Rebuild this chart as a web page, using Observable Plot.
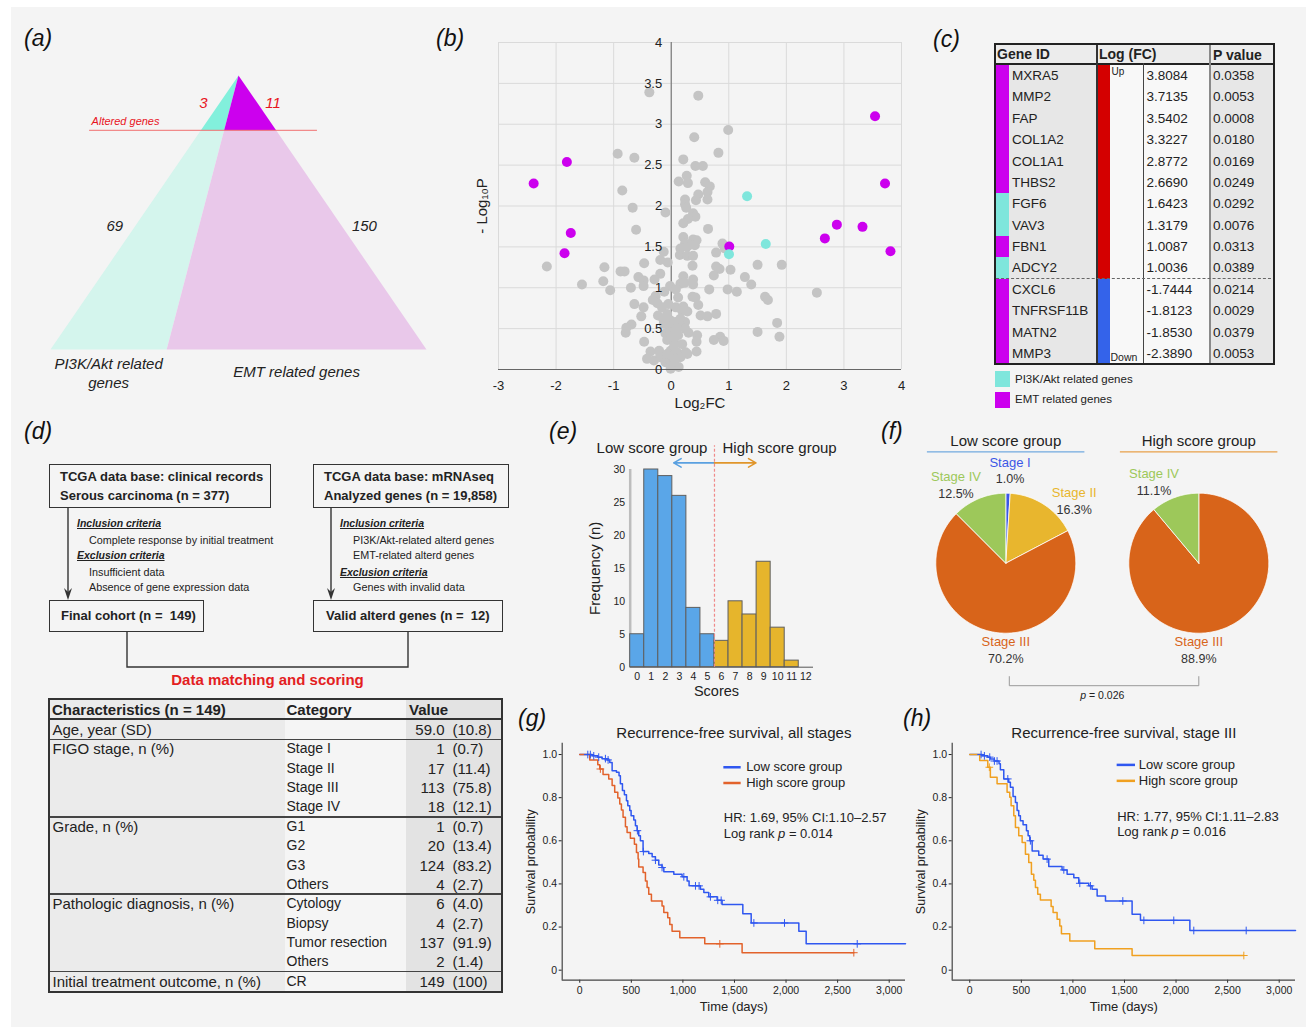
<!DOCTYPE html>
<html>
<head>
<meta charset="utf-8">
<script src="https://cdn.jsdelivr.net/npm/d3@7"></script>
<script src="https://cdn.jsdelivr.net/npm/@observablehq/plot@0.6"></script>
<style>
  html,body{margin:0;padding:0;background:#fff;}
  #page{position:relative;width:1312px;height:1027px;overflow:hidden;background:#fff;font-family:"Liberation Sans",Arial,Helvetica,sans-serif;color:#222;}
  #bg{position:absolute;left:11px;top:7px;right:6px;bottom:0;background:#f4f4f4;}
  .lab{position:absolute;font-style:italic;font-size:23px;line-height:23px;color:#111;}
  svg{overflow:visible;}
</style>
</head>
<body>
<div id="page"><div id="bg"></div></div>
<script>
// ---------------- DATA ----------------
// (a) gene counts
const geneSetNames = ["PI3K/Akt related genes", "EMT related genes"];
const alteredCounts = [3, 11];
const otherCounts = [69, 150];

// (b) volcano: non-selected genes (log2FC, -log10 P)
const grayFC = [-0.38,0.47,0.99,0.40,0.82,-0.93,-0.64,0.21,0.42,0.55,
0.27,0.29,0.13,0.59,0.67,-0.85,0.47,0.63,0.24,0.43,
0.63,0.24,0.26,-0.67,-0.10,0.38,0.42,0.29,0.21,0.64,
-0.61,0.21,0.38,0.44,0.24,0.31,0.41,0.16,0.27,0.89,
0.93,-0.13,0.78,0.15,0.28,0.38,-0.47,-0.19,-0.06,0.37,
0.78,0.84,1.03,1.50,1.92,-2.16,-1.16,-0.88,-0.81,-0.19,
0.21,0.74,-0.57,-0.48,-0.29,0.38,1.28,-1.18,-1.55,-1.06,
-0.70,-0.48,-0.02,0.16,0.23,0.38,0.08,0.66,0.98,1.14,
1.39,2.53,1.63,1.68,-0.27,-0.32,-0.24,-0.64,0.37,0.42,
0.47,0.08,0.21,-0.48,-0.52,-0.16,-0.07,0.19,0.28,0.51,
0.63,0.78,-0.23,0.16,-0.01,0.08,0.24,1.84,-0.69,-0.78,
-0.79,-0.13,-0.04,0.15,0.24,1.50,-0.10,-0.01,0.12,0.45,
0.85,0.74,0.91,1.88,-0.47,-0.07,0.05,0.19,0.44,-0.36,
-0.21,-0.01,0.10,0.25,0.44,0.28,-0.42,-0.30,-0.19,-0.10,
-0.01,0.05,0.13,-0.01,0.16,-0.19,0.05,-0.07,0.02,
0.10,-0.05,0.12,-0.12,0.30,0.00,0.06,-0.14];
const grayNLP = [3.39,3.35,2.93,2.84,2.65,2.64,2.59,2.57,2.49,2.49,
2.37,2.28,2.30,2.29,2.24,2.19,2.14,2.17,2.08,2.07,
2.08,2.02,1.98,1.98,1.92,1.91,1.87,1.84,1.79,1.72,
1.71,1.62,1.59,1.58,1.54,1.52,1.52,1.48,1.50,1.54,
1.48,1.44,1.43,1.40,1.39,1.39,1.30,1.34,1.31,1.27,
1.26,1.23,1.22,1.28,1.28,1.26,1.25,1.20,1.20,1.17,
1.14,1.15,1.13,1.09,1.10,1.10,1.13,1.08,1.04,0.97,
1.00,1.02,1.02,1.05,1.06,1.04,0.98,0.98,0.98,0.95,
1.04,0.94,0.89,0.85,0.90,0.85,0.81,0.80,0.89,0.88,
0.79,0.76,0.77,0.76,0.65,0.76,0.68,0.72,0.71,0.66,
0.65,0.68,0.66,0.62,0.60,0.58,0.58,0.57,0.55,0.51,
0.45,0.56,0.53,0.55,0.50,0.46,0.44,0.46,0.42,0.42,
0.40,0.36,0.35,0.40,0.34,0.36,0.34,0.31,0.34,0.22,
0.23,0.23,0.21,0.21,0.22,0.19,0.13,0.11,0.15,0.09,
0.11,0.07,0.03,0.01,0.15,0.19,0.29,0.19,0.16,
0.50,0.80,0.88,0.95,0.45,0.40,0.12,0.62];
const volcanoXTicks = [-3,-2,-1,0,1,2,3,4];
const volcanoYTicks = [0,0.5,1,1.5,2,2.5,3,3.5,4];

// (c) altered genes table
const geneIds = ["MXRA5","MMP2","FAP","COL1A2","COL1A1","THBS2","FGF6","VAV3","FBN1","ADCY2","CXCL6","TNFRSF11B","MATN2","MMP3"];
const geneLogFC = [3.8084,3.7135,3.5402,3.3227,2.8772,2.6690,1.6423,1.3179,1.0087,1.0036,-1.7444,-1.8123,-1.8530,-2.3890];
const genePValue = [0.0358,0.0053,0.0008,0.0180,0.0169,0.0249,0.0292,0.0076,0.0313,0.0389,0.0214,0.0029,0.0379,0.0053];
const geneSet = ["EMT","EMT","EMT","EMT","EMT","EMT","PI3K","PI3K","EMT","PI3K","EMT","EMT","EMT","EMT"];

// (d) characteristics table
const charNames = ["Age, year (SD)","FIGO stage, n (%)","Grade, n (%)","Pathologic diagnosis, n (%)","Initial treatment outcome, n (%)"];
const charCats = [[""],["Stage I","Stage II","Stage III","Stage IV"],["G1","G2","G3","Others"],["Cytology","Biopsy","Tumor resection","Others"],["CR"]];
const charN = [["59.0"],["1","17","113","18"],["1","20","124","4"],["6","4","137","2"],["149"]];
const charPct = [["10.8"],["0.7","11.4","75.8","12.1"],["0.7","13.4","83.2","2.7"],["4.0","2.7","91.9","1.4"],["100"]];

// (e) score histogram
const scores = [0,1,2,3,4,5,6,7,8,9,10,11,12];
const scoreFreq = [5,30,29,26,9,5,4,10,8,16,6,1,0];
const scoreCutoff = 5.5;
const histYTicks = [0,5,10,15,20,25,30];

// (f) FIGO stage distribution (%)
const pieGroups = ["Low score group","High score group"];
const stageNames = ["Stage I","Stage II","Stage III","Stage IV"];
const lowStagePct = [1.0,16.3,70.2,12.5];
const highStagePct = [0,0,88.9,11.1];

// (g) RFS all stages (time in days, survival)
const gLowT = [0,120,175,217,265,291,314,356,381,394,414,433,453,466,485,498,524,540,556,572,588,614,669,702,734,766,798,815,912,992,1041,1060,1170,1203,1251,1332,1380,1581,1662,2124,2195];
const gLowS = [1,0.994,0.988,0.981,0.975,0.963,0.925,0.918,0.902,0.864,0.833,0.814,0.786,0.763,0.740,0.716,0.696,0.670,0.647,0.623,0.600,0.550,0.541,0.526,0.510,0.488,0.476,0.456,0.445,0.433,0.414,0.391,0.375,0.360,0.340,0.324,0.305,0.262,0.219,0.181,0.122];
const gLowEnd = 3158;
const gLowCens = [78,103,136,184,249,275,559,617,734,798,1009,1122,1157,1267,1338,1371,1688,1985,2690];
const gHighT = [0,97,175,194,226,281,314,339,369,388,404,420,443,459,491,530,550,566,572,614,637,653,669,695,798,815,853,873,895,970,1212,1574];
const gHighS = [1,0.975,0.953,0.933,0.907,0.887,0.856,0.825,0.798,0.771,0.743,0.709,0.665,0.639,0.612,0.584,0.546,0.515,0.479,0.453,0.414,0.383,0.352,0.321,0.298,0.267,0.243,0.212,0.181,0.150,0.122,0.081];
const gHighEnd = 2657;
const gHighCens = [200,1358,2657];

// (h) RFS stage III
const hLowT = [0,120,175,200,239,284,297,330,378,394,420,443,459,475,491,517,550,566,582,605,669,711,766,895,944,1009,1057,1154,1186,1235,1316,1574,1655,2134];
const hLowS = [1,0.994,0.988,0.979,0.970,0.957,0.929,0.887,0.871,0.848,0.805,0.778,0.740,0.716,0.693,0.674,0.647,0.623,0.600,0.553,0.533,0.515,0.481,0.465,0.445,0.429,0.403,0.391,0.375,0.344,0.321,0.259,0.231,0.184];
const hLowEnd = 3158;
const hLowCens = [110,142,194,239,265,369,588,750,912,1067,1170,1484,1688,1978,2172,2680];
const hHighT = [0,97,175,200,265,362,388,401,427,443,475,508,540,572,598,621,637,659,685,789,808,847,873,889,970,1212,1574];
const hHighS = [1,0.972,0.941,0.895,0.864,0.825,0.802,0.763,0.716,0.662,0.623,0.592,0.538,0.499,0.445,0.417,0.383,0.352,0.326,0.295,0.267,0.236,0.205,0.169,0.135,0.099,0.068];
const hHighEnd = 2657;
const hHighCens = [190,2657];
const kmXTicks = [0,500,1000,1500,2000,2500,3000];
const kmYTicks = [0,0.2,0.4,0.6,0.8,1.0];

// ---------------- HELPERS ----------------
const FONT = '"Liberation Sans", Arial, Helvetica, sans-serif';
const CYAN = "#7fe6dc", MAGENTA = "#cc00ee";
const page = document.getElementById("page");
function div(parent, css, html) {
  const d = document.createElement("div");
  d.style.cssText = "position:absolute;white-space:nowrap;" + css;
  if (html != null) d.innerHTML = html;
  parent.appendChild(d);
  return d;
}
function txt(parent, html, x, cy, fs, css = "") {
  return div(parent, `left:${x}px;top:${cy - fs * 0.6}px;font-size:${fs}px;line-height:${fs * 1.2}px;` + css, html);
}
function place(node, left, top) {
  node.style.position = "absolute";
  node.style.left = left + "px";
  node.style.top = top + "px";
  page.appendChild(node);
}
function italicP(svg) {
  svg.querySelectorAll("text, tspan").forEach(t => {
    if (t.children.length === 0 && t.textContent.includes("{p}")) {
      const parts = t.textContent.split("{p}");
      t.textContent = "";
      parts.forEach((s, i) => {
        if (i > 0) {
          const ts = document.createElementNS("http://www.w3.org/2000/svg", "tspan");
          ts.setAttribute("font-style", "italic");
          ts.textContent = "p";
          t.appendChild(ts);
        }
        t.appendChild(document.createTextNode(s));
      });
    }
  });
}
const thousands = d => String(d).replace(/\B(?=(\d{3})+(?!\d))/g, ",");
const baseStyle = {background: "transparent", fontFamily: FONT, color: "#222", overflow: "visible"};
// centred frame labels
const M = {textAnchor: "middle", lineAnchor: "middle"};

// panel labels
[["(a)",24,27],["(b)",436,27],["(c)",933,28],["(d)",24,420],["(e)",549,420],["(f)",881,420],["(g)",518,707],["(h)",903,707]]
  .forEach(([t,x,y]) => div(page, `left:${x}px;top:${y}px;`, t).className = "lab");

// ---------------- (a) triangle ----------------
{
  const total = d3.sum(alteredCounts) + d3.sum(otherCounts);
  const f = (alteredCounts[0] + otherCounts[0]) / total; // split position on base
  const h = 0.8; // level of the "altered genes" line
  const L = y => 0.5 * y, R = y => 1 - 0.5 * y, S = y => f + (0.5 - f) * y;
  const regionNames = ["pi3kOther","emtOther","pi3kAlt","emtAlt"];
  const polys = {
    pi3kOther: [[0,0],[f,0],[S(h),h],[L(h),h]],
    emtOther: [[f,0],[1,0],[R(h),h],[S(h),h]],
    pi3kAlt: [[L(h),h],[S(h),h],[0.5,1]],
    emtAlt: [[S(h),h],[R(h),h],[0.5,1]]
  };
  const pts = regionNames.flatMap(r => [...polys[r], polys[r][0]].map(([x,y]) => ({region: r, x, y})));
  const mid = (1 + h) / 2, low = 0.45;
  const red = "#e8141e";
  const svg = Plot.plot({
    width: 440, height: 380, marginLeft: 50, marginRight: 14, marginTop: 55, marginBottom: 51,
    x: {domain: [0, 1], axis: null}, y: {domain: [0, 1], axis: null},
    color: {domain: regionNames, range: ["#d4f5ed", "#e9c8ea", "#82f0dc", MAGENTA]},
    style: baseStyle,
    marks: [
      Plot.line(pts, {x: "x", y: "y", z: "region", fill: "region", stroke: "none"}),
      Plot.ruleY([h], {x1: 0.104, x2: 0.71, stroke: "#f07070", strokeWidth: 1}),
      Plot.text(["Altered genes"], {x: 0.104, y: h, text: d => d, textAnchor: "start", dx: 2, dy: -9, fill: red, fontStyle: "italic", fontSize: 11}),
      Plot.text([alteredCounts[0]], {x: L(mid), y: mid, text: d => String(d), textAnchor: "end", dx: -12, fill: red, fontStyle: "italic", fontSize: 15}),
      Plot.text([alteredCounts[1]], {x: R(mid), y: mid, text: d => String(d), textAnchor: "start", dx: 8, fill: red, fontStyle: "italic", fontSize: 15}),
      Plot.text([otherCounts[0]], {x: L(low), y: low, text: d => String(d), textAnchor: "end", dx: -12, fill: "#222", fontStyle: "italic", fontSize: 15}),
      Plot.text([otherCounts[1]], {x: R(low), y: low, text: d => String(d), textAnchor: "start", dx: 10, fill: "#222", fontStyle: "italic", fontSize: 15}),
      Plot.text(["PI3K/Akt related\ngenes"], {x: f / 2, y: 0, text: d => d, dy: 23, lineHeight: 1.25, fill: "#222", fontStyle: "italic", fontSize: 15}),
      Plot.text(["EMT related genes"], {x: (1 + f) / 2, y: 0, text: d => d, dy: 23, fill: "#222", fontStyle: "italic", fontSize: 15})
    ]
  });
  place(svg, 0, 20);
}

// ---------------- (b) volcano ----------------
{
  const gray = grayFC.map((x, i) => ({fc: x, nlp: grayNLP[i]}));
  const sig = geneIds.map((g, i) => ({gene: g, fc: geneLogFC[i], nlp: -Math.log10(genePValue[i]), set: geneSet[i]}));
  const svg = Plot.plot({
    width: 480, height: 400, marginLeft: 58, marginRight: 19, marginTop: 22, marginBottom: 51,
    x: {domain: [-3, 4], axis: null}, y: {domain: [0, 4], axis: null},
    color: {domain: ["PI3K", "EMT"], range: [CYAN, MAGENTA]},
    style: baseStyle,
    marks: [
      Plot.ruleX(volcanoXTicks, {x: d => d, stroke: "#dadada"}),
      Plot.ruleY(volcanoYTicks.filter(d => d > 0), {y: d => d, stroke: "#dadada"}),
      Plot.ruleX([0], {x: d => d, stroke: "#666"}),
      Plot.dot(gray, {x: "fc", y: "nlp", r: 5, fill: "#c4c4c4"}),
      Plot.dot(sig, {x: "fc", y: "nlp", r: 5, fill: "set"}),
      Plot.ruleY([0], {y: d => d, stroke: "#666", strokeWidth: 1.2}),
      Plot.text(volcanoYTicks, {x: 0, y: d => d, text: d => String(d), textAnchor: "end", dx: -9, fontSize: 13}),
      Plot.text(volcanoXTicks, {x: d => d, y: 0, text: d => String(d), dy: 16, fontSize: 13}),
      Plot.text(["Log₂FC"], {...M, frameAnchor: "bottom", text: d => d, dy: 34, fontSize: 15}),
      Plot.text(["- Log₁₀P"], {...M, frameAnchor: "left", text: d => d, dx: -16, rotate: -90, fontSize: 15})
    ]
  });
  place(svg, 440, 20);
}

// ---------------- (c) table ----------------
{
  const T = div(page, "left:994px;top:43px;width:281px;height:322px;box-sizing:border-box;border:2px solid #222;background:#f8f8f8;overflow:hidden;");
  const RH = 21.38, top0 = 20;
  div(T, "left:0;top:0;width:100px;height:320px;background:#e7e7e7;");
  div(T, "left:215px;top:0;width:70px;height:320px;background:#e7e7e7;");
  div(T, "left:0;top:0;width:280px;height:18px;background:#ececec;");
  div(T, "left:0;top:18px;width:280px;height:2px;background:#222;");
  div(T, "left:100px;top:0;width:1.5px;height:320px;background:#333;");
  div(T, "left:147px;top:18px;width:1px;height:320px;background:#444;");
  div(T, "left:212.5px;top:0;width:2.5px;height:320px;background:#8a8a8a;");
  div(T, "left:1px;top:0;font-size:14px;line-height:18px;font-weight:bold;", "Gene ID");
  div(T, "left:103px;top:0;font-size:14px;line-height:18px;font-weight:bold;", "Log (FC)");
  div(T, "left:217px;top:1px;font-size:14px;line-height:18px;font-weight:bold;", "P value");
  geneIds.forEach((g, i) => {
    const y = top0 + i * RH;
    div(T, `left:0;top:${y}px;width:13px;height:${RH + 0.5}px;background:${geneSet[i] === "EMT" ? MAGENTA : CYAN};`);
    div(T, `left:101.5px;top:${y}px;width:12px;height:${RH + 0.5}px;background:${geneLogFC[i] > 0 ? "#d40000" : "#3463ea"};`);
    div(T, `left:16px;top:${y}px;font-size:13.5px;line-height:${RH}px;`, g);
    div(T, `left:150.5px;top:${y}px;font-size:13.5px;line-height:${RH}px;`, geneLogFC[i].toFixed(4));
    div(T, `left:217px;top:${y}px;font-size:13.5px;line-height:${RH}px;`, genePValue[i].toFixed(4));
  });
  const nUp = geneLogFC.filter(v => v > 0).length;
  div(T, `left:0;top:${top0 + nUp * RH - 0.5}px;width:280px;height:0;border-top:1px dashed #666;`);
  div(T, `left:115.5px;top:${top0 + 1}px;font-size:10px;line-height:11px;`, "Up");
  div(T, `left:114.5px;top:${top0 + geneIds.length * RH - 12.5}px;font-size:10.5px;line-height:11px;`, "Down");
  div(page, `left:995px;top:371px;width:15px;height:16px;background:${CYAN};`);
  div(page, `left:995px;top:392px;width:15px;height:16px;background:${MAGENTA};`);
  txt(page, "PI3K/Akt related genes", 1015, 380, 11.5);
  txt(page, "EMT related genes", 1015, 400, 11.5);
}

// ---------------- (d) flowchart ----------------
{
  const box = (x, y, w, hgt) => div(page, `left:${x}px;top:${y}px;width:${w}px;height:${hgt}px;box-sizing:border-box;border:1.5px solid #333;`);
  box(49, 464, 222, 44); box(313, 464, 196, 44); box(49, 600, 155, 32); box(313, 600, 190, 32);
  const B = "font-weight:bold;";
  txt(page, "TCGA data base: clinical records", 60, 477, 13, B);
  txt(page, "Serous carcinoma (n = 377)", 60, 495.5, 13, B);
  txt(page, "TCGA data base: mRNAseq", 324, 477, 13, B);
  txt(page, "Analyzed genes (n = 19,858)", 324, 495.5, 13, B);
  txt(page, "Final cohort (n =&nbsp; 149)", 61, 616, 13, B);
  txt(page, "Valid alterd genes (n =&nbsp; 12)", 326, 616, 13, B);
  const H = "font-weight:bold;font-style:italic;text-decoration:underline;";
  txt(page, "Inclusion criteria", 77, 523, 10.5, H);
  txt(page, "Complete response by initial treatment", 89, 540, 10.8);
  txt(page, "Exclusion criteria", 77, 555.5, 10.5, H);
  txt(page, "Insufficient data", 89, 572, 10.8);
  txt(page, "Absence of gene expression data", 89, 587, 10.8);
  txt(page, "Inclusion criteria", 340, 523, 10.5, H);
  txt(page, "PI3K/Akt-related alterd genes", 353, 540, 10.8);
  txt(page, "EMT-related alterd genes", 353, 555.5, 10.8);
  txt(page, "Exclusion criteria", 340, 572, 10.5, H);
  txt(page, "Genes with invalid data", 353, 587, 10.8);
  div(page, "left:170px;top:671px;width:195px;text-align:center;font-size:15px;line-height:18px;font-weight:bold;color:#e3201f;", "Data matching and scoring");
  const ns = "http://www.w3.org/2000/svg";
  const s = document.createElementNS(ns, "svg");
  s.setAttribute("width", 1312); s.setAttribute("height", 1027);
  s.style.cssText = "position:absolute;left:0;top:0;pointer-events:none;";
  s.innerHTML = `
    <g stroke="#333" stroke-width="1.4" fill="none">
      <line x1="68" y1="508" x2="68" y2="596"/>
      <line x1="331" y1="508" x2="331" y2="596"/>
      <path d="M127,632V667H408V632"/>
    </g>
    <g fill="#333">
      <path d="M64,588L68,600L72,588L68,592Z"/>
      <path d="M327,588L331,600L335,588L331,592Z"/>
    </g>`;
  page.appendChild(s);
}

// ---------------- (d) characteristics table ----------------
{
  const T = div(page, "left:48px;top:698px;width:455px;height:295px;box-sizing:border-box;border:2px solid #333;background:#f5f5f5;overflow:hidden;");
  const RH = 19.36, top0 = 20;
  div(T, "left:0;top:0;width:235px;height:300px;background:#ebebeb;");
  div(T, "left:356px;top:0;width:100px;height:300px;background:#e3e3e3;");
  div(T, "left:0;top:18px;width:460px;height:2px;background:#333;");
  div(T, "left:2px;top:0;font-size:15px;line-height:19px;font-weight:bold;", "Characteristics (n = 149)");
  div(T, "left:236.5px;top:0;font-size:15px;line-height:19px;font-weight:bold;", "Category");
  div(T, "left:359px;top:0;font-size:15px;line-height:19px;font-weight:bold;", "Value");
  let r = 0;
  charNames.forEach((name, gi) => {
    const y0 = top0 + r * RH;
    if (gi > 0) div(T, `left:0;top:${y0 - 0.75}px;width:460px;height:1.5px;background:#444;`);
    div(T, `left:2.5px;top:${y0}px;font-size:15px;line-height:${RH}px;`, name);
    charCats[gi].forEach((c, k) => {
      const y = top0 + (r + k) * RH;
      div(T, `left:236.5px;top:${y}px;font-size:14px;line-height:${RH}px;`, c);
      div(T, `left:344px;width:50.5px;text-align:right;top:${y}px;font-size:15px;line-height:${RH}px;`, charN[gi][k]);
      div(T, `left:402.5px;top:${y}px;font-size:15px;line-height:${RH}px;`, `(${charPct[gi][k]})`);
    });
    r += charCats[gi].length;
  });
}

// ---------------- (e) histogram ----------------
{
  const hist = scores.map((s, i) => ({score: s, n: scoreFreq[i], grp: s < scoreCutoff ? "low" : "high"}));
  const blue = "#5aa6e8", gold = "#e6b52c";
  const svg = Plot.plot({
    width: 300, height: 290, marginLeft: 89.7, marginRight: 27.7, marginTop: 49, marginBottom: 43.3,
    x: {domain: [-0.5, 12.5], axis: null}, y: {domain: [0, 30], axis: null},
    color: {domain: ["low", "high"], range: [blue, gold]},
    style: baseStyle,
    marks: [
      Plot.ruleX([-0.5], {x: d => d, y1: 0, y2: 30, stroke: "#bdbdbd", strokeWidth: 2.5}),
      Plot.rectY(hist, {x1: d => d.score - 0.5, x2: d => d.score + 0.5, y: "n", fill: "grp", stroke: "#5f5f5f", strokeWidth: 1}),
      Plot.ruleY([0], {y: d => d, x1: -0.5, x2: 12.55, stroke: "#555"}),
      Plot.ruleX([scoreCutoff], {x: d => d, y1: 0, y2: 33.6, stroke: "#f08a8a", strokeWidth: 1.2, strokeDasharray: "3,2"}),
      Plot.arrow([scoreCutoff], {x1: d => d, x2: 2.6, y1: 31, y2: 31, stroke: "#5aa0e0", strokeWidth: 1.6, headLength: 8}),
      Plot.arrow([scoreCutoff], {x1: d => d, x2: 8.45, y1: 31, y2: 31, stroke: "#e0952a", strokeWidth: 1.6, headLength: 8}),
      Plot.text(["Low score group"], {x: scoreCutoff, y: 33.2, text: d => d, textAnchor: "end", dx: -7, fontSize: 15}),
      Plot.text(["High score group"], {x: scoreCutoff, y: 33.2, text: d => d, textAnchor: "start", dx: 8, fontSize: 15}),
      Plot.text(histYTicks, {x: -0.5, y: d => d, text: d => String(d), textAnchor: "end", dx: -5, fontSize: 10.5}),
      Plot.text(scores, {x: d => d, y: 0, text: d => String(d), dy: 9, fontSize: 10.5}),
      Plot.text(["Scores"], {...M, frameAnchor: "bottom", text: d => d, dx: -5, dy: 24, fontSize: 14.5}),
      Plot.text(["Frequency (n)"], {...M, frameAnchor: "left", text: d => d, dx: -35, rotate: -90, fontSize: 15})
    ]
  });
  place(svg, 540, 420);
}

// ---------------- (f) pies ----------------
{
  const SP = 193 / 70; // distance between pie centers in radius units
  const pcts = [lowStagePct, highStagePct];
  const pie = d3.pie().sort(null).value(d => d.pct);
  const pts = [], labels = [];
  pieGroups.forEach((g, gi) => {
    const cx = gi * SP;
    const items = stageNames.map((s, i) => ({stage: s, pct: pcts[gi][i]})).filter(d => d.pct > 0);
    pie(items).forEach(arc => {
      const id = g + "|" + arc.data.stage, stage = arc.data.stage;
      const n = Math.max(2, Math.ceil((arc.endAngle - arc.startAngle) / (Math.PI / 180)));
      pts.push({id, stage, x: cx, y: 0});
      for (let k = 0; k <= n; k++) {
        const a = arc.startAngle + (arc.endAngle - arc.startAngle) * k / n;
        pts.push({id, stage, x: cx + Math.sin(a), y: Math.cos(a)});
      }
      pts.push({id, stage, x: cx, y: 0});
      const mid = (arc.startAngle + arc.endAngle) / 2;
      const big = arc.data.pct > 50;
      const la = big ? Math.PI : (mid > Math.PI ? 2 * Math.PI - (2 * Math.PI - mid) * 1.45 : mid * 1.45);
      const Rr = big ? 1.25 : 1.32;
      labels.push({stage, pct: arc.data.pct, x: cx + Rr * Math.sin(la), y: Rr * Math.cos(la)});
    });
  });
  const bracket = [{x: 0.05, y: -1.62}, {x: 0.05, y: -1.75}, {x: SP, y: -1.75}, {x: SP, y: -1.62}];
  const svg = Plot.plot({
    width: 440, height: 290, marginLeft: 0, marginRight: 0, marginTop: 0, marginBottom: 0,
    x: {domain: [-135.3 / 70, 304.7 / 70], axis: null}, y: {domain: [-147.3 / 70, 142.7 / 70], axis: null},
    color: {domain: stageNames, range: ["#3b57e6", "#e8b62e", "#d8641a", "#9dc85a"]},
    style: baseStyle,
    marks: [
      Plot.line(pts, {x: "x", y: "y", z: "id", fill: "stage", stroke: "#fff", strokeWidth: 0.8}),
      Plot.text(labels, {x: "x", y: "y", text: "stage", fill: "stage", dy: -8.5, fontSize: 13}),
      Plot.text(labels, {x: "x", y: "y", text: d => d.pct.toFixed(1) + "%", fill: "#333", dy: 8.5, fontSize: 12.5}),
      Plot.text(pieGroups, {x: (d, i) => i * SP, y: 1.75, text: d => d, fontSize: 15}),
      Plot.ruleY([1.59], {y: d => d, x1: -1.12, x2: 1.13, stroke: "#72aadf", strokeWidth: 1.2}),
      Plot.ruleY([1.59], {y: d => d, x1: SP - 1.12, x2: SP + 1.13, stroke: "#e8a04a", strokeWidth: 1.2}),
      Plot.line(bracket, {x: "x", y: "y", stroke: "#999", strokeWidth: 1}),
      Plot.text(["{p} = 0.026"], {x: SP / 2, y: -1.89, text: d => d, fontSize: 10.5})
    ]
  });
  italicP(svg);
  place(svg, 870, 420);
}

// ---------------- (g)/(h) Kaplan-Meier ----------------
function survAt(T, S, t) { let s = S[0]; for (let i = 0; i < T.length; i++) if (T[i] <= t) s = S[i]; return s; }
function kmPlot({title, low, high, colors, hr, lr, leg}) {
  const groups = ["Low score group", "High score group"];
  const pts = [], cens = [];
  [low, high].forEach((c, gi) => {
    c.T.forEach((t, i) => pts.push({g: groups[gi], t, s: c.S[i]}));
    pts.push({g: groups[gi], t: c.end, s: c.S[c.S.length - 1]});
    c.cens.forEach(t => cens.push({g: groups[gi], t, s: survAt(c.T, c.S, t)}));
  });
  const legend = groups.map((g, i) => ({g, y: leg.y[i]}));
  const svg = Plot.plot({
    width: 400, height: 307, marginLeft: 51.7, marginRight: 5, marginTop: 22.7, marginBottom: 47.3,
    x: {domain: [-170, 3158], ticks: kmXTicks, tickFormat: thousands, tickSize: 3, tickPadding: 3, label: null},
    y: {domain: [-0.0465, 1.0526], ticks: kmYTicks, tickFormat: d => d === 0 ? "0" : d.toFixed(1), tickSize: 3, tickPadding: 2, label: null},
    color: {domain: groups, range: colors},
    style: {...baseStyle, fontSize: "10.5px"},
    marks: [
      Plot.ruleX([-170], {x: d => d, stroke: "#444", strokeWidth: 1.2}),
      Plot.ruleY([-0.0465], {y: d => d, stroke: "#444", strokeWidth: 1.2}),
      Plot.line(pts, {x: "t", y: "s", z: "g", stroke: "g", curve: "step-after", strokeWidth: 1.5}),
      Plot.dot(cens, {x: "t", y: "s", stroke: "g", symbol: "plus", r: 2.6, strokeWidth: 1}),
      Plot.ruleY(legend, {y: "y", x1: leg.x1, x2: leg.x2, stroke: "g", strokeWidth: 2.5}),
      Plot.text(legend, {x: leg.tx, y: "y", text: "g", textAnchor: "start", fontSize: 13}),
      Plot.text([hr], {x: leg.x1, y: leg.hy[0], text: d => d, textAnchor: "start", fontSize: 13}),
      Plot.text([lr], {x: leg.x1, y: leg.hy[1], text: d => d, textAnchor: "start", fontSize: 13}),
      Plot.text([title], {...M, frameAnchor: "top", text: d => d, dy: -10, fontSize: 15}),
      Plot.text(["Time (days)"], {...M, frameAnchor: "bottom", text: d => d, dy: 27, fontSize: 13}),
      Plot.text(["Survival probability"], {...M, frameAnchor: "left", text: d => d, dx: -31, rotate: -90, fontSize: 12.5})
    ]
  });
  italicP(svg);
  return svg;
}
place(kmPlot({
  title: "Recurrence-free survival, all stages",
  low: {T: gLowT, S: gLowS, end: gLowEnd, cens: gLowCens},
  high: {T: gHighT, S: gHighS, end: gHighEnd, cens: gHighCens},
  colors: ["#2f57f0", "#e2622b"],
  hr: "HR: 1.69, 95% CI:1.10–2.57", lr: "Log rank {p} = 0.014",
  leg: {x1: 1397, x2: 1565, tx: 1613, y: [0.941, 0.868], hy: [0.707, 0.631]}
}), 510, 720);
place(kmPlot({
  title: "Recurrence-free survival, stage III",
  low: {T: hLowT, S: hLowS, end: hLowEnd, cens: hLowCens},
  high: {T: hHighT, S: hHighS, end: hHighEnd, cens: hHighCens},
  colors: ["#2f57f0", "#f0a020"],
  hr: "HR: 1.77, 95% CI:1.11–2.83", lr: "Log rank {p} = 0.016",
  leg: {x1: 1429, x2: 1607, tx: 1639, y: [0.952, 0.878], hy: [0.713, 0.642]}
}), 900, 720);
</script>
</body>
</html>
